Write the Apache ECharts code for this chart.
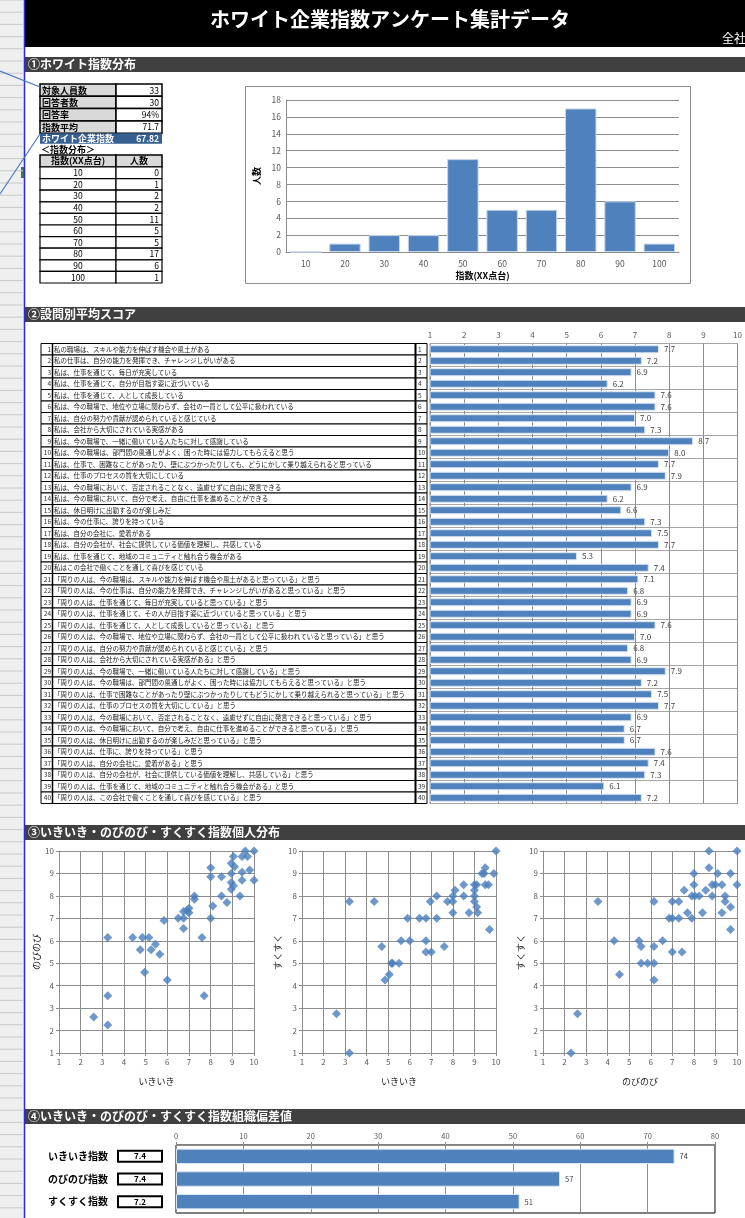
<!DOCTYPE html>
<html lang="ja">
<head>
<meta charset="UTF-8">
<title>ホワイト企業指数アンケート集計データ</title>
<script src="https://cdn.jsdelivr.net/npm/echarts/dist/echarts.min.js"></script>
<style>
html,body{margin:0;padding:0;background:#fff;}
#main{width:745px;height:1218px;}
</style>
</head>
<body>
<div id="main"></div>
<script>
// ---- data ----
var pageTitle = 'ホワイト企業指数アンケート集計データ';
var summaryLabels = ['対象人員数', '回答者数', '回答率', '指数平均'];
var summaryValues = ['33', '30', '94%', '71.7'];
var whiteIndexLabel = 'ホワイト企業指数';
var whiteIndexValue = '67.82';

var distCats = ['10', '20', '30', '40', '50', '60', '70', '80', '90', '100'];
var distCounts = [0, 1, 2, 2, 11, 5, 5, 17, 6, 1];

var questions = [
  '私の職場は、スキルや能力を伸ばす機会や風土がある',
  '私の仕事は、自分の能力を発揮でき、チャレンジしがいがある',
  '私は、仕事を通じて、毎日が充実している',
  '私は、仕事を通じて、自分が目指す姿に近づいている',
  '私は、仕事を通じて、人として成長している',
  '私は、今の職場で、地位や立場に関わらず、会社の一員として公平に扱われている',
  '私は、自分の努力や貢献が認められていると感じている',
  '私は、会社から大切にされている実感がある',
  '私は、今の職場で、一緒に働いている人たちに対して感謝している',
  '私は、今の職場は、部門間の風通しがよく、困った時には協力してもらえると思う',
  '私は、仕事で、困難なことがあったり、壁にぶつかったりしても、どうにかして乗り越えられると思っている',
  '私は、仕事のプロセスの質を大切にしている',
  '私は、今の職場において、否定されることなく、遠慮せずに自由に発言できる',
  '私は、今の職場において、自分で考え、自由に仕事を進めることができる',
  '私は、休日明けに出勤するのが楽しみだ',
  '私は、今の仕事に、誇りを持っている',
  '私は、自分の会社に、愛着がある',
  '私は、自分の会社が、社会に提供している価値を理解し、共感している',
  '私は、仕事を通じて、地域のコミュニティと触れ合う機会がある',
  '私はこの会社で働くことを通して喜びを感じている',
  '「周りの人は、今の職場は、スキルや能力を伸ばす機会や風土があると思っている」と思う',
  '「周りの人は、今の仕事は、自分の能力を発揮でき、チャレンジしがいがあると思っている」と思う',
  '「周りの人は、仕事を通じて、毎日が充実していると思っている」と思う',
  '「周りの人は、仕事を通じて、その人が目指す姿に近づいていると思っている」と思う',
  '「周りの人は、仕事を通じて、人として成長していると思っている」と思う',
  '「周りの人は、今の職場で、地位や立場に関わらず、会社の一員として公平に扱われていると思っている」と思う',
  '「周りの人は、自分の努力や貢献が認められていると感じている」と思う',
  '「周りの人は、会社から大切にされている実感がある」と思う',
  '「周りの人は、今の職場で、一緒に働いている人たちに対して感謝している」と思う',
  '「周りの人は、今の職場は、部門間の風通しがよく、困った時には協力してもらえると思っている」と思う',
  '「周りの人は、仕事で困難なことがあったり壁にぶつかったりしてもどうにかして乗り越えられると思っている」と思う',
  '「周りの人は、仕事のプロセスの質を大切にしている」と思う',
  '「周りの人は、今の職場において、否定されることなく、遠慮せずに自由に発言できると思っている」と思う',
  '「周りの人は、今の職場において、自分で考え、自由に仕事を進めることができると思っている」と思う',
  '「周りの人は、休日明けに出勤するのが楽しみだと思っている」と思う',
  '「周りの人は、仕事に、誇りを持っている」と思う',
  '「周りの人は、自分の会社に、愛着がある」と思う',
  '「周りの人は、自分の会社が、社会に提供している価値を理解し、共感している」と思う',
  '「周りの人は、仕事を通じて、地域のコミュニティと触れ合う機会がある」と思う',
  '「周りの人は、この会社で働くことを通して喜びを感じている」と思う'
];
var questionScores = [7.7, 7.2, 6.9, 6.2, 7.6, 7.6, 7.0, 7.3, 8.7, 8.0,
                      7.7, 7.9, 6.9, 6.2, 6.6, 7.3, 7.5, 7.7, 5.3, 7.4,
                      7.1, 6.8, 6.9, 6.9, 7.6, 7.0, 6.8, 6.9, 7.9, 7.2,
                      7.5, 7.7, 6.9, 6.7, 6.7, 7.6, 7.4, 7.3, 6.1, 7.2];

// いきいき x のびのび
var ikiNobi = [[2.6,2.6],[3.25,6.15],[3.25,3.55],[3.25,2.25],[4.4,6.15],[4.75,5.6],[4.85,6.15],[5.15,6.15],
  [4.95,4.6],[5.25,5.6],[5.45,5.85],[5.65,5.4],[5.85,6.9],[6.0,4.25],[6.5,7.0],[6.75,7.3],[6.75,7.0],
  [6.75,6.55],[6.9,7.35],[7.0,7.45],[7.0,7.25],[7.25,8.0],[7.25,7.85],[7.6,6.15],[7.7,3.55],[8.0,7.0],
  [8.1,7.55],[8.0,8.85],[8.0,9.25],[8.5,8.85],[8.5,8.0],[8.75,7.7],[8.95,9.0],[8.95,9.45],[9.05,9.75],
  [9.1,9.3],[8.95,8.6],[9.05,8.45],[8.95,8.3],[9.35,8.0],[9.45,8.7],[9.45,9.05],[9.45,9.75],[9.6,10],
  [9.7,9.75],[9.8,9.15],[10,10],[10,8.7]];
// いきいき x すくすく
var ikiSuku = [[2.6,2.75],[3.2,1],[3.2,7.75],[4.35,7.75],[4.7,5.75],[4.85,4.25],[5.05,4.5],[5.15,5],[5.2,5],
  [5.5,5],[5.6,6],[5.9,7],[6.0,6],[6.45,7],[6.75,7],[6.75,6],[6.75,5.5],[7.0,5.5],[6.95,7.75],[7.25,8],
  [7.25,7],[7.6,5.75],[7.75,7.75],[8.0,7.25],[8.0,7.75],[8.0,8],[8.1,8.25],[8.5,8],[8.5,8.5],[8.75,7.25],
  [9.0,8.5],[9.0,8.25],[9.0,8],[9.0,7.75],[9.1,8.5],[9.1,7.5],[9.15,7.25],[9.35,9],[9.45,9],[9.5,9.25],
  [9.5,8.5],[9.65,8.5],[9.7,6.5],[9.9,9],[10,10]];
// のびのび x すくすく
var nobiSuku = [[2.3,1],[2.6,2.75],[3.55,7.75],[4.3,6],[4.55,4.5],[5.45,6],[5.55,5.75],[5.55,5],[5.85,5],
  [6.15,5],[6.15,5.75],[6.15,7.75],[6.15,4.25],[6.55,6],[6.85,7],[7.0,7],[7.0,7.75],[7.0,5.5],[7.3,7],
  [7.3,7.75],[7.45,5.5],[7.55,8.25],[7.7,7.25],[7.9,7],[7.9,8],[8.0,9],[8.0,8.5],[8.05,8],[8.25,8],
  [8.4,7.25],[8.55,8.25],[8.7,9.25],[8.7,10],[8.85,8],[8.85,8.5],[9.0,8.5],[9.1,9],[9.3,8.5],[9.3,7.25],
  [9.45,8],[9.45,7.75],[9.7,7.5],[9.7,9],[9.7,6.5],[10,10],[10,8.5]];

var orgCats = ['いきいき指数', 'のびのび指数', 'すくすく指数'];
var orgIndex = ['7.4', '7.4', '7.2'];
var orgDeviation = [74, 57, 51];

// ---- drawing ----
var FONT = '"Noto Sans CJK JP", "Noto Sans", sans-serif';
var blue = '#4F81BD';
var gridGray = '#8c8c8c';
var labelGray = '#595959';
var g = [];

function rect(x, y, w, h, fill, stroke, lw) {
  g.push({type: 'rect', silent: true, z: 0, shape: {x: x, y: y, width: w, height: h},
    style: {fill: fill || 'transparent', stroke: stroke || 'transparent', lineWidth: lw || 1}});
}
function line(x1, y1, x2, y2, stroke, lw) {
  g.push({type: 'line', silent: true, z: 1, shape: {x1: x1, y1: y1, x2: x2, y2: y2},
    style: {stroke: stroke, lineWidth: lw || 1}});
}
function text(x, y, s, size, color, align, weight) {
  g.push({type: 'text', silent: true, z: 2,
    style: {x: x, y: y, text: s, fill: color || '#000',
      font: (weight || 'normal') + ' ' + size + 'px ' + FONT,
      textAlign: align || 'left', textVerticalAlign: 'middle',
      align: align || 'left', verticalAlign: 'middle'}});
}

// excel row header strip
rect(0, 0, 24, 1218, '#efefef');
for (var ry = 0; ry < 1218; ry += 12.2) line(0, ry, 23, ry, '#c8c8c8', 1);
rect(21, 167, 3, 11, '#3d7a3d');
line(24.5, 0, 24.5, 1218, '#2a2ae0', 1.5);

// title
rect(25, 0, 720, 47, '#000');
text(390, 19, pageTitle, 20, '#fff', 'center', 'bold');
text(722, 38, '全社', 12, '#fff', 'left');

// section headers
var sections = [['①ホワイト指数分布', 57], ['②設問別平均スコア', 307],
                ['③いきいき・のびのび・すくすく指数個人分布', 825], ['④いきいき・のびのび・すくすく指数組織偏差値', 1109]];
sections.forEach(function (s) {
  rect(25, s[1], 720, 15, '#404040');
  text(28, s[1] + 7.5, s[0], 12, '#fff', 'left', 'bold');
});

// summary table
for (var i = 0; i < summaryLabels.length; i++) {
  var y = 84 + i * 12.3;
  rect(40, y, 76, 12.3, '#d9d9d9', '#000', 1.5);
  rect(116, y, 46, 12.3, '#fff', '#000', 1.5);
  text(42, y + 6.3, summaryLabels[i], 9, '#000', 'left', 'bold');
  text(159, y + 6.3, summaryValues[i], 8.5, '#000', 'right');
}
rect(40, 133.2, 122, 10.5, '#376092');
text(42, 138.5, whiteIndexLabel, 9, '#fff', 'left', 'bold');
text(159, 138.5, whiteIndexValue, 8.5, '#fff', 'right', 'bold');
text(41, 150, '＜指数分布＞', 9, '#000', 'left', 'bold');

// distribution table
rect(40, 155, 76, 12, '#d9d9d9', '#000', 1.5);
rect(116, 155, 46, 12, '#d9d9d9', '#000', 1.5);
text(78, 161, '指数(XX点台)', 9, '#000', 'center', 'bold');
text(139, 161, '人数', 9, '#000', 'center', 'bold');
for (i = 0; i < distCats.length; i++) {
  var yy = 167 + i * 11.6;
  rect(40, yy, 76, 11.6, '#fff', '#000', 1.2);
  rect(116, yy, 46, 11.6, '#fff', '#000', 1.2);
  text(78, yy + 6, distCats[i], 8.5, '#000', 'center');
  text(159, yy + 6, String(distCounts[i]), 8.5, '#000', 'right');
}
line(0, 71, 40, 87, '#4a78c8', 1.2);
line(0, 194, 40, 134, '#4a78c8', 1.2);

// chart 1 frame
rect(245.5, 86.5, 445, 197, 'transparent', gridGray, 1);

// question table
var qTop = 343.5, qH = 11.5;
for (i = 0; i < questions.length; i++) {
  var qy = qTop + i * qH;
  rect(41, qy, 386, qH, '#fff', '#000', 1);
  text(51, qy + qH / 2, String(i + 1), 6.5, '#333', 'right');
  text(54, qy + qH / 2, questions[i], 6.5, '#222', 'left');
  text(418, qy + qH / 2, String(i + 1), 6.5, '#333', 'left');
}
line(52.5, qTop, 52.5, qTop + qH * 40, '#000', 1.5);
line(415.5, qTop, 415.5, qTop + qH * 40, '#000', 2);

function valueAxis(idx, min, max, interval, pos, labelSize) {
  return {type: 'value', gridIndex: idx, min: min, max: max, interval: interval, position: pos,
    axisLine: {show: true, lineStyle: {color: gridGray}},
    axisTick: {show: true, length: 3, lineStyle: {color: gridGray}},
    axisLabel: {fontSize: labelSize || 8, color: labelGray, margin: 5},
    splitLine: {show: true, lineStyle: {color: gridGray, width: 1}}};
}

var qNums = questions.map(function (q, k) { return String(k + 1); });

var xAxes = [
  {type: 'category', gridIndex: 0, data: distCats, name: '指数(XX点台)', nameLocation: 'middle', nameGap: 19,
    nameTextStyle: {fontSize: 9, fontWeight: 'bold', color: '#000'},
    axisLine: {lineStyle: {color: gridGray}}, axisTick: {length: 4, lineStyle: {color: gridGray}},
    axisLabel: {fontSize: 8.5, color: labelGray, margin: 8}},
  valueAxis(1, 1, 10, 1, 'top', 8),
  valueAxis(2, 1, 10, 1, 'bottom', 8),
  valueAxis(3, 1, 10, 1, 'bottom', 8),
  valueAxis(4, 1, 10, 1, 'bottom', 8),
  valueAxis(5, 0, 80, 10, 'top', 7.5)
];
xAxes[2].name = 'いきいき'; xAxes[3].name = 'いきいき'; xAxes[4].name = 'のびのび';
[2, 3, 4].forEach(function (k) {
  xAxes[k].nameLocation = 'middle'; xAxes[k].nameGap = 24;
  xAxes[k].nameTextStyle = {fontSize: 9, color: '#222'};
});
xAxes[1].axisLine.show = false; xAxes[1].axisTick.show = false;

var yAxes = [
  valueAxis(0, 0, 18, 2, 'left', 8.5),
  {type: 'category', gridIndex: 1, data: qNums, inverse: true,
    axisLine: {show: false}, axisTick: {show: false}, axisLabel: {show: false},
    splitLine: {show: true, lineStyle: {color: '#a6a6a6', width: 1}}},
  valueAxis(2, 1, 10, 1, 'left', 8),
  valueAxis(3, 1, 10, 1, 'left', 8),
  valueAxis(4, 1, 10, 1, 'left', 8),
  {type: 'category', gridIndex: 5, data: orgCats, inverse: true,
    axisLine: {show: false}, axisTick: {show: false},
    axisLabel: {margin: 14, formatter: function (v, k) { return '{n|' + v + '}{b|' + orgIndex[k] + '}'; },
      rich: {
        n: {width: 70, align: 'left', fontSize: 10, fontWeight: 'bold', color: '#000', fontFamily: FONT},
        b: {width: 40, height: 9, align: 'center', fontSize: 8, fontWeight: 'bold', color: '#000',
            borderColor: '#000', borderWidth: 2, padding: [1, 2], fontFamily: FONT}
      }},
    splitLine: {show: false}}
];
yAxes[0].name = '人数'; yAxes[0].nameLocation = 'middle'; yAxes[0].nameGap = 22; yAxes[0].nameRotate = 90;
yAxes[0].nameTextStyle = {fontSize: 9, fontWeight: 'bold', color: '#000'};
yAxes[0].axisTick.show = false;
yAxes[2].name = 'のびのび'; yAxes[3].name = 'すくすく'; yAxes[4].name = 'すくすく';
[[2, 15], [3, 20], [4, 18]].forEach(function (p) {
  yAxes[p[0]].nameLocation = 'middle'; yAxes[p[0]].nameGap = p[1]; yAxes[p[0]].nameRotate = 90;
  yAxes[p[0]].nameTextStyle = {fontSize: 9, color: '#222'};
});

function scatterSeries(idx, data) {
  return {type: 'scatter', xAxisIndex: idx, yAxisIndex: idx, data: data, symbol: 'diamond',
    symbolSize: 9, itemStyle: {color: '#4A7EBB'}, silent: true};
}

var chart = echarts.init(document.getElementById('main'));
chart.setOption({
  animation: false,
  backgroundColor: '#fff',
  textStyle: {fontFamily: FONT},
  graphic: {elements: g},
  grid: [
    {left: 286, top: 100, width: 393, height: 152},
    {left: 430, top: qTop, width: 310, height: qH * 40, show: true, borderColor: gridGray, backgroundColor: 'transparent'},
    {left: 59, top: 851, width: 195, height: 202},
    {left: 302, top: 851, width: 194, height: 202},
    {left: 543, top: 851, width: 194, height: 202},
    {left: 176, top: 1145, width: 539, height: 68, show: true, borderColor: '#000', backgroundColor: 'transparent'}
  ],
  xAxis: xAxes,
  yAxis: yAxes,
  series: [
    {type: 'bar', xAxisIndex: 0, yAxisIndex: 0, data: distCounts, barCategoryGap: '20%',
      itemStyle: {color: blue, borderColor: '#c5d5ea', borderWidth: 1}, silent: true},
    {type: 'bar', xAxisIndex: 1, yAxisIndex: 1, data: questionScores, barCategoryGap: '30%',
      itemStyle: {color: blue, borderColor: '#dce6f2', borderWidth: 1}, silent: true,
      label: {show: true, position: 'right', distance: 5, fontSize: 8, color: '#404040',
        formatter: function (p) { return p.value.toFixed(1); }}},
    scatterSeries(2, ikiNobi),
    scatterSeries(3, ikiSuku),
    scatterSeries(4, nobiSuku),
    {type: 'bar', xAxisIndex: 5, yAxisIndex: 5, data: orgDeviation, barCategoryGap: '32%',
      itemStyle: {color: blue, borderColor: '#dce6f2', borderWidth: 1}, silent: true,
      label: {show: true, position: 'right', distance: 5, fontSize: 7.5, color: '#404040'}}
  ]
});
</script>
</body>
</html>
